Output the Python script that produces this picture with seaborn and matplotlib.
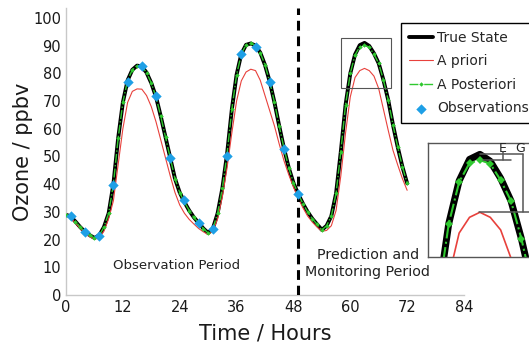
import numpy as np
import pandas as pd
import matplotlib
matplotlib.use("Agg")
import matplotlib.pyplot as plt
import seaborn as sns
from matplotlib.patches import Rectangle

# ---------------- data ----------------
hours = list(range(0, 73))

true_state = [29.0, 28.3, 26.5, 24.5, 22.8, 21.6, 20.6, 21.5, 24.5, 29.5,
              40.0, 56.5, 69.5, 77.5, 81.3, 82.8, 82.5, 80.3, 76.5, 71.5,
              64.5, 57.0, 49.5, 42.0, 37.0, 33.5, 30.5, 28.0, 26.0, 24.0,
              22.4, 24.0, 29.5, 38.5, 51.0, 67.0, 79.5, 87.0, 90.3, 90.8,
              90.0, 87.5, 83.0, 77.0, 69.5, 61.0, 53.0, 46.0, 40.5, 36.5,
              33.0, 30.0, 27.5, 25.5, 23.5, 25.0, 28.5, 36.7, 51.7, 68.6,
              80.0, 86.8, 90.2, 91.0, 89.9, 87.2, 83.6, 77.6, 70.4, 61.5,
              53.5, 46.3, 40.3]

a_priori = [28.5, 27.8, 26.0, 24.0, 22.3, 21.0, 20.2, 20.6, 23.0, 27.5,
            34.0, 47.0, 60.0, 69.5, 73.5, 74.4, 74.3, 72.0, 68.0, 62.5,
            56.0, 49.5, 43.0, 37.0, 32.5, 29.5, 27.3, 25.6, 24.0, 22.8,
            21.8, 23.0, 27.5, 35.5, 46.0, 58.5, 70.0, 77.3, 80.5, 81.5,
            81.0, 77.5, 72.0, 66.5, 61.0, 54.5, 48.5, 43.5, 39.0, 35.0,
            31.5, 28.5, 26.3, 24.5, 23.0, 23.3, 25.0, 30.5, 43.0, 58.5,
            71.5, 78.5, 81.0, 81.8, 81.0, 79.0, 74.5, 67.0, 59.5, 52.3,
            47.0, 42.0, 37.8]

a_posteriori = [29.0, 28.3, 26.5, 24.5, 22.8, 21.6, 20.6, 21.5, 24.5, 29.5,
                40.0, 56.5, 69.5, 77.5, 81.3, 82.8, 82.5, 80.3, 76.5, 71.5,
                64.5, 57.0, 49.5, 42.0, 37.0, 33.5, 30.5, 28.0, 26.0, 24.0,
                22.4, 24.0, 29.5, 38.5, 51.0, 67.0, 79.5, 87.0, 90.3, 90.8,
                90.0, 87.5, 83.0, 77.0, 69.5, 61.0, 53.0, 46.0, 40.5, 36.5,
                33.0, 30.0, 27.5, 25.5, 23.5, 25.0, 28.5, 36.7, 51.7, 68.6,
                80.0, 86.6, 89.6, 90.1, 89.5, 86.9, 83.6, 77.6, 70.4, 61.5,
                53.5, 46.3, 40.3]

obs_hours = [1, 4, 7, 10, 13, 16, 19, 22, 25, 28, 31, 34, 37, 40, 43, 46, 49]
obs_values = [28.5, 22.7, 21.3, 39.7, 76.9, 82.5, 71.8, 49.5, 34.3, 26.0,
              23.8, 50.0, 87.0, 89.5, 77.0, 52.7, 36.5]

x_ticks = [0, 12, 24, 36, 48, 60, 72, 84]
y_ticks = [0, 10, 20, 30, 40, 50, 60, 70, 80, 90, 100]
split_hour = 49
zoom_x = (58.0, 68.6)
zoom_y = (74.7, 92.8)
peak_true = 91.0
peak_post = 90.1
peak_prior = 81.8

df = pd.DataFrame({"hour": hours, "truth": true_state,
                   "prior": a_priori, "post": a_posteriori})
obs_df = pd.DataFrame({"hour": obs_hours, "value": obs_values})

# ---------------- style ----------------
sns.set_theme(style="white")
plt.rcParams["font.family"] = ["DejaVu Sans"]

GREEN = "#2fc82f"
RED = "#e8413c"
BLUE = "#1e9fe6"
GRID = "#c8c8c8"

fig = plt.figure(figsize=(5.29, 3.47), dpi=100)
ax = fig.add_axes([66 / 529, 52 / 347, (464 - 66) / 529, (295 - 8) / 347])

sns.lineplot(data=df, x="hour", y="truth", ax=ax, color="black",
             linewidth=2.8, label="True State", zorder=2)
sns.lineplot(data=df, x="hour", y="prior", ax=ax, color=RED,
             linewidth=0.8, label="A priori", zorder=3)
sns.lineplot(data=df, x="hour", y="post", ax=ax, color=GREEN,
             linewidth=1.0, linestyle="-.", marker="D", markersize=2.3,
             markeredgewidth=0, label="A Posteriori", zorder=4)
sns.scatterplot(data=obs_df, x="hour", y="value", ax=ax, color=BLUE,
                marker="D", s=28, linewidth=0, label="Observations",
                zorder=6)

ax.axvline(split_hour, color="black", linewidth=2.2, linestyle=(0, (3.2, 1.9)),
           zorder=5)

ax.add_patch(Rectangle((zoom_x[0], zoom_y[0]), zoom_x[1] - zoom_x[0],
                       zoom_y[1] - zoom_y[0], fill=False,
                       edgecolor="#555555", linewidth=0.8, zorder=7))

ax.text(23.4, 10.8, "Observation Period", ha="center", va="center",
        fontsize=9.5, color="#222222")
ax.text(63.7, 11.4, "Prediction and\nMonitoring Period", ha="center",
        va="center", fontsize=10.3, color="#222222", linespacing=1.2)

ax.set_xlim(0, 84)
ax.set_ylim(0, 103.6)
ax.set_xticks(x_ticks)
ax.set_yticks(y_ticks)
ax.tick_params(axis="both", labelsize=10.5, colors=GRID, labelcolor="#1a1a1a",
               direction="in", length=3, width=0.8)
ax.set_xlabel("Time / Hours", fontsize=15, color="#1a1a1a", labelpad=6)
ax.set_ylabel("Ozone / ppbv", fontsize=15, color="#1a1a1a", labelpad=0)
for s in ["top", "right"]:
    ax.spines[s].set_visible(False)
for s in ["left", "bottom"]:
    ax.spines[s].set_color(GRID)
    ax.spines[s].set_linewidth(1.0)

leg = ax.legend(loc="upper left", bbox_to_anchor=(401 / 529, 1 - 23 / 347),
                bbox_transform=fig.transFigure, borderaxespad=0, fontsize=10,
                frameon=True, fancybox=False, edgecolor="black", framealpha=1,
                handlelength=1.75, handletextpad=0.3, labelspacing=0.69,
                borderpad=0.55, numpoints=1, markerscale=1.0)
leg.get_frame().set_linewidth(1.0)
leg.set_zorder(10)

# ---------------- inset ----------------
iax = fig.add_axes([428 / 529, (347 - 257) / 347, 110 / 529, 114 / 347])
iax.set_facecolor("white")
sns.lineplot(data=df, x="hour", y="truth", ax=iax, color="black",
             linewidth=5.0, zorder=2)
sns.lineplot(data=df, x="hour", y="prior", ax=iax, color=RED,
             linewidth=1.2, zorder=3)
sns.lineplot(data=df, x="hour", y="post", ax=iax, color=GREEN,
             linewidth=1.5, linestyle="-.", marker="D", markersize=4.5,
             markeredgewidth=0, zorder=4)
iax.set_xlim(*zoom_x)
iax.set_ylim(*zoom_y)
ann = dict(color="#555555", linewidth=1.1, zorder=5)
iax.plot([63.0, 67.2], [peak_true, peak_true], **ann)
iax.plot([63.3, 66.0], [peak_post, peak_post], **ann)
iax.plot([65.2, 65.2], [peak_post, peak_true + 0.4], **ann)
iax.plot([67.2, 67.2], [peak_prior, peak_true], **ann)
iax.plot([62.9, 68.6], [peak_prior, peak_prior], **ann)
iax.text(65.2, 91.3, "E", ha="center", va="baseline", fontsize=9,
         color="#222222")
iax.text(66.9, 91.3, "G", ha="center", va="baseline", fontsize=9,
         color="#222222")
iax.set_xticks([])
iax.set_yticks([])
iax.set_xlabel("")
iax.set_ylabel("")
if iax.get_legend() is not None:
    iax.get_legend().remove()
for s in iax.spines.values():
    s.set_visible(True)
    s.set_color("#555555")
    s.set_linewidth(1.0)

fig.savefig("out.png", dpi=100)
